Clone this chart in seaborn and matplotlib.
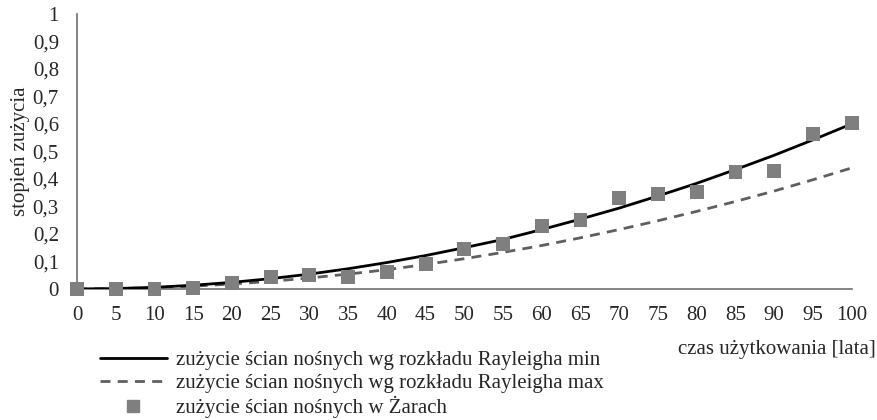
import pandas as pd
import matplotlib.pyplot as plt
import seaborn as sns
from matplotlib.lines import Line2D
from matplotlib.ticker import FuncFormatter

# lata uzytkowania
years = [0, 5, 10, 15, 20, 25, 30, 35, 40, 45, 50, 55, 60, 65, 70, 75, 80, 85, 90, 95, 100]

# rozklad Rayleigha - min i max
rayleigh_min = [0, 0.0015, 0.006, 0.0135, 0.024, 0.0375, 0.054, 0.0735, 0.096, 0.1215, 0.15,
                0.18, 0.216, 0.254, 0.294, 0.338, 0.384, 0.434, 0.486, 0.542, 0.6]
rayleigh_max = [0, 0.001, 0.0044, 0.01, 0.018, 0.0275, 0.04, 0.054, 0.07, 0.089, 0.11,
                0.133, 0.158, 0.186, 0.216, 0.248, 0.282, 0.318, 0.356, 0.397, 0.44]

# zuzycie scian noszacych w Zarach
zary = [0, 0, 0, 0.002, 0.022, 0.043, 0.05, 0.045, 0.062, 0.09, 0.145,
        0.164, 0.229, 0.25, 0.331, 0.345, 0.352, 0.425, 0.429, 0.564, 0.604]

labels = ["zużycie ścian nośnych wg rozkładu Rayleigha min",
          "zużycie ścian nośnych wg rozkładu Rayleigha max",
          "zużycie ścian nośnych w Żarach"]

df = pd.DataFrame({"t": years, "min": rayleigh_min, "max": rayleigh_max, "zary": zary})

sns.set_style("white")
plt.rcParams["font.family"] = ["Liberation Serif", "DejaVu Serif"]

fig = plt.figure(figsize=(8.78, 4.2), dpi=100)
ax = fig.add_axes([0.0877, 0.312, 0.8823, 0.655])

sns.lineplot(data=df, x="t", y="min", ax=ax, color="black", linewidth=2, zorder=3)
sns.lineplot(data=df, x="t", y="max", ax=ax, color="#5f5f5f", linewidth=2, zorder=2)
ax.lines[1].set_dashes((3.6, 2.6))
sns.scatterplot(data=df, x="t", y="zary", ax=ax, marker="s", s=100, color="#7f7f7f",
                edgecolor="none", zorder=4, clip_on=False)

ax.set_xlim(0, 100)
ax.set_ylim(0, 1)
ax.set_xticks(years)
ax.set_yticks([i / 10 for i in range(11)])
ax.yaxis.set_major_formatter(FuncFormatter(lambda v, p: ("%g" % round(v, 1)).replace(".", ",")))
ax.tick_params(axis="both", labelsize=15, length=0)
ax.tick_params(axis="x", pad=12.5)
ax.tick_params(axis="y", pad=13)
ax.set_xlabel("")
ax.set_ylabel("stopień zużycia", fontsize=15, labelpad=2)

for s in ["top", "right"]:
    ax.spines[s].set_visible(False)
for s in ["left", "bottom"]:
    ax.spines[s].set_color("#707070")
    ax.spines[s].set_linewidth(1.2)

handles = [Line2D([], [], color="black", lw=2),
           Line2D([], [], color="#5f5f5f", lw=2, dashes=(3.6, 2.6)),
           Line2D([], [], color="#7f7f7f", lw=0, marker="s", markersize=8)]
fig.legend(handles, labels, loc="upper left", bbox_to_anchor=(0.114, 0.165),
           frameon=False, fontsize=15, handlelength=3.2, handletextpad=0.45,
           labelspacing=0.15, borderaxespad=0, borderpad=0)

fig.text(0.772, 0.1667, "czas użytkowania [lata]", fontsize=15, va="center")

fig.savefig("out.png", dpi=100)
